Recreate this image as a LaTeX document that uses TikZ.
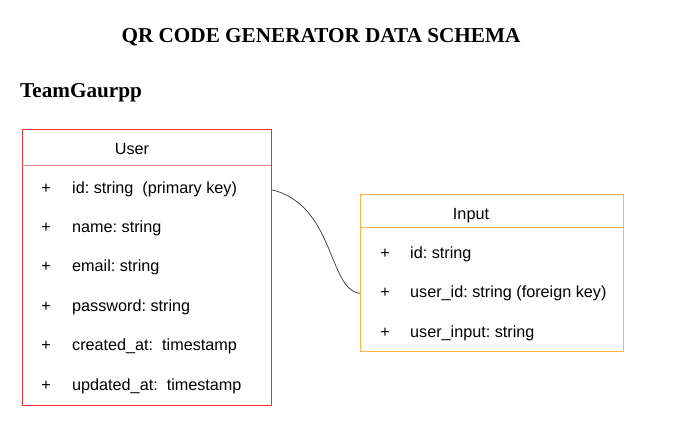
\documentclass[tikz,border=0pt]{standalone}
\usepackage{fontspec}
\setmainfont{Liberation Serif}
\setsansfont{Liberation Sans}
\usetikzlibrary{positioning}

\definecolor{userred}{HTML}{F03030}
\definecolor{userpink}{HTML}{F58A8A}
\definecolor{inputorange}{HTML}{FFB347}

\begin{document}
\frenchspacing
\begin{tikzpicture}[
    x=1pt, y=-1pt,
    font=\sffamily\fontsize{16.2}{19}\selectfont,
    heading/.style={
      font=\rmfamily\bfseries\fontsize{21.2}{24}\selectfont,
      inner sep=0pt
    },
    table/.style={
      draw=#1,
      line width=0.8pt,
      anchor=north west,
      inner sep=0pt
    },
    field/.style={anchor=base west, inner sep=0pt, text=black},
    plus/.style={anchor=base, inner sep=0pt, text=black},
    link/.style={draw=black!80, line width=0.7pt},
  ]
\useasboundingbox (0,0) rectangle (677,429);

% Titles
\node[heading] (title) at (321,37) {QR CODE GENERATOR DATA SCHEMA};
\node[heading, anchor=west] (team) at (20,93) {TeamGaurpp};

% User table
\node[table=userred, minimum width=249pt, minimum height=276pt] (user) at (22,129) {};
\node[field, anchor=base] (usertitle) at (132,154) {User};
\draw[userpink, line width=0.8pt] (22,165) -- (271,165);
\foreach \txt [count=\i] in {id: string\ \ (primary key), name: string, email: string,
    password: string, created\_at:\ \ timestamp, updated\_at:\ \ timestamp} {
  \node[plus] (userplus\i) at (46,{193+(\i-1)*39.4}) {+};
  \node[field] (user\i) at (72,{193+(\i-1)*39.4}) {\txt};
}

% Input table
\node[table=inputorange, minimum width=263pt, minimum height=157pt] (input) at (360,194) {};
\node[field, anchor=base] (inputtitle) at (471,219) {Input};
\draw[inputorange, line width=0.8pt] (360,227) -- (623,227);
\foreach \txt [count=\i] in {id: string, user\_id: string (foreign key), user\_input: string} {
  \node[plus] (inputplus\i) at (385,{258+(\i-1)*39.5}) {+};
  \node[field] (input\i) at (410,{258+(\i-1)*39.5}) {\txt};
}

% Relation
\draw[link] ([yshift=-1pt]user.east |- user1) .. controls (335,205) and (328,290) .. (input.west |- input2);

\end{tikzpicture}
\end{document}
